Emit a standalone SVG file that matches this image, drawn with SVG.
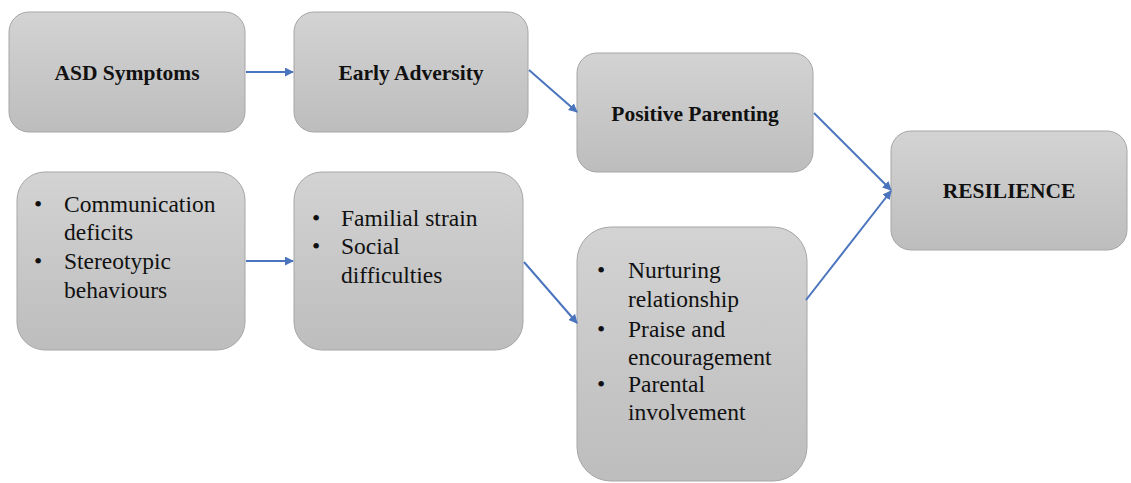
<svg xmlns="http://www.w3.org/2000/svg" width="1131" height="483" viewBox="0 0 1131 483">
<style>
.box{fill:url(#g);stroke:#a6a6a6;stroke-width:1}
.t{font-family:"Liberation Serif","Times New Roman",serif;font-size:21.5px;font-weight:bold;fill:#111;text-anchor:middle}
.b{font-family:"Liberation Serif","Times New Roman",serif;font-size:23.5px;fill:#111}
.c{stroke:#4a74be;stroke-width:2;fill:none;marker-end:url(#ah)}
</style>
<defs>
<linearGradient id="g" x1="0" y1="0" x2="0" y2="1">
<stop offset="0" stop-color="#d3d3d3"/>
<stop offset="1" stop-color="#bdbdbd"/>
</linearGradient>
<marker id="ah" viewBox="0 0 10 10" refX="9" refY="5" markerWidth="4.5" markerHeight="4.5" orient="auto" markerUnits="strokeWidth">
<path d="M0,0 L10,5 L0,10 z" fill="#4a74be"/>
</marker>
</defs>
<rect width="1131" height="483" fill="#ffffff"/>
<g id="asd"><rect class="box" x="9" y="12" width="236" height="120" rx="20"/><text class="t" x="127" y="80">ASD Symptoms</text></g>
<g id="early"><rect class="box" x="294" y="12" width="234" height="120" rx="20"/><text class="t" x="411" y="80">Early Adversity</text></g>
<g id="positive"><rect class="box" x="577" y="53" width="236" height="119" rx="20"/><text class="t" x="695" y="121">Positive Parenting</text></g>
<g id="resilience"><rect class="box" x="891" y="131" width="236" height="119" rx="20"/><text class="t" x="1009" y="198">RESILIENCE</text></g>
<g id="comm"><rect class="box" x="17" y="172" width="228" height="178" rx="28"/>
<text class="b" x="34" y="212">•</text><text class="b" x="64" y="212">Communication</text>
<text class="b" x="64" y="240">deficits</text>
<text class="b" x="34" y="269">•</text><text class="b" x="64" y="269">Stereotypic</text>
<text class="b" x="64" y="298">behaviours</text></g>
<g id="familial"><rect class="box" x="294" y="172" width="229" height="178" rx="28"/>
<text class="b" x="312" y="226">•</text><text class="b" x="341" y="226">Familial strain</text>
<text class="b" x="312" y="254">•</text><text class="b" x="341" y="254">Social</text>
<text class="b" x="341" y="283">difficulties</text></g>
<g id="nurturing"><rect class="box" x="577" y="227" width="230" height="254" rx="34"/>
<text class="b" x="597" y="278">•</text><text class="b" x="628" y="278">Nurturing</text>
<text class="b" x="628" y="307">relationship</text>
<text class="b" x="597" y="337">•</text><text class="b" x="628" y="337">Praise and</text>
<text class="b" x="628" y="365">encouragement</text>
<text class="b" x="597" y="392">•</text><text class="b" x="628" y="392">Parental</text>
<text class="b" x="628" y="420">involvement</text></g>
<g id="connectors">
<line class="c" x1="246" y1="72" x2="293" y2="72"/>
<line class="c" x1="529" y1="70" x2="577" y2="112"/>
<line class="c" x1="814" y1="113" x2="891" y2="190"/>
<line class="c" x1="806" y1="300" x2="891" y2="191"/>
<line class="c" x1="246" y1="261" x2="293" y2="261"/>
<line class="c" x1="524" y1="262" x2="577" y2="323"/>
</g>
</svg>
